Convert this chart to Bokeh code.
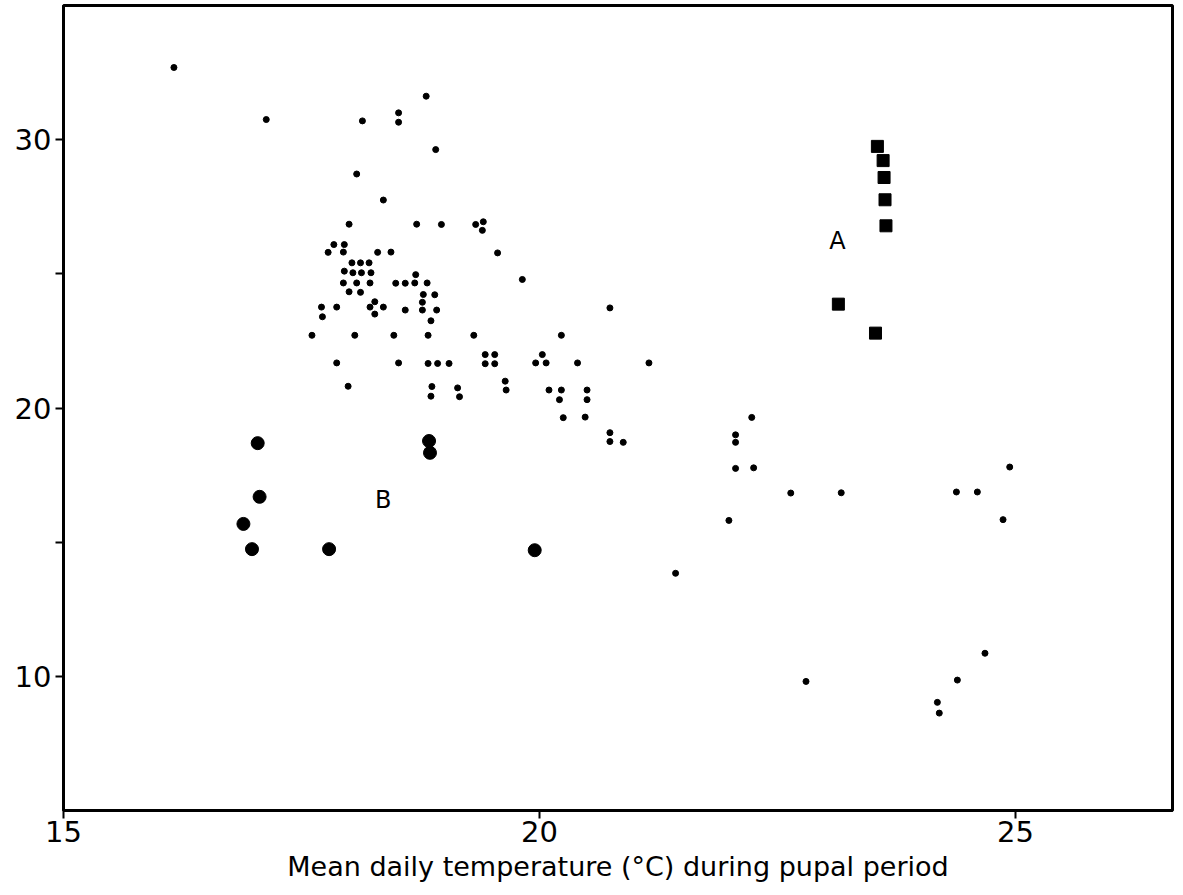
from bokeh.plotting import figure
from bokeh.models import Range1d, FixedTicker, ColumnDataSource
from bokeh.core.properties import value
from bokeh.embed import file_html
from bokeh.resources import INLINE

# Mean daily temperature during the pupal period (x) against the response (y)
dot_x = [16.16, 17.13, 18.14, 18.52, 18.52, 18.81, 18.91, 18.08, 18.36, 18.00,
         18.71, 18.97, 19.33, 19.41, 19.40, 17.84, 17.95, 17.78, 17.94, 18.30,
         18.44, 19.56, 19.82, 18.03, 18.12, 18.21, 17.95, 18.04, 18.13, 18.23,
         17.94, 18.08, 18.22, 18.49, 18.59, 18.69, 18.82, 18.70, 18.00, 18.12,
         18.78, 18.90, 18.77, 18.27, 17.71, 17.87, 18.22, 18.36, 18.59, 18.77,
         18.92, 17.72, 18.27, 18.86, 17.61, 18.06, 18.47, 18.83, 19.31, 20.74,
         20.23, 17.87, 18.52, 18.83, 18.93, 19.05, 19.43, 19.53, 19.43, 19.53,
         20.03, 19.96, 20.07, 20.40, 21.15, 17.99, 18.87, 18.86, 19.14, 19.16,
         19.64, 19.65, 20.10, 20.23, 20.21, 20.50, 20.50, 20.48, 20.25, 20.74,
         20.74, 20.88, 21.43, 22.23, 22.06, 22.06, 22.06, 22.25, 22.64, 23.17,
         21.99, 24.38, 24.60, 24.94, 24.87, 24.68, 24.39, 24.18, 24.20, 22.80]
dot_y = [32.69, 30.75, 30.70, 31.00, 30.65, 31.62, 29.63, 28.72, 27.75, 26.85,
         26.85, 26.84, 26.84, 26.94, 26.62, 26.09, 26.09, 25.80, 25.81, 25.80,
         25.81, 25.78, 24.79, 25.41, 25.41, 25.41, 25.10, 25.04, 25.04, 25.04,
         24.66, 24.66, 24.66, 24.65, 24.65, 24.66, 24.66, 24.97, 24.33, 24.31,
         24.23, 24.22, 23.94, 23.96, 23.76, 23.76, 23.76, 23.76, 23.65, 23.65,
         23.65, 23.40, 23.50, 23.25, 22.71, 22.71, 22.71, 22.71, 22.71, 23.73,
         22.71, 21.68, 21.68, 21.66, 21.66, 21.66, 21.99, 21.99, 21.65, 21.65,
         21.99, 21.68, 21.68, 21.68, 21.68, 20.81, 20.80, 20.44, 20.75, 20.42,
         21.00, 20.67, 20.67, 20.67, 20.31, 20.67, 20.31, 19.66, 19.64, 19.08,
         18.75, 18.72, 13.84, 19.65, 19.00, 18.72, 17.75, 17.77, 16.83, 16.84,
         15.81, 16.87, 16.87, 17.80, 15.84, 10.86, 9.86, 9.03, 8.63, 9.81]

# Group A (squares)
a_x = [23.55, 23.61, 23.62, 23.63, 23.64, 23.14, 23.53]
a_y = [29.75, 29.22, 28.59, 27.76, 26.79, 23.87, 22.79]

# Group B (large circles)
b_x = [17.04, 17.06, 16.89, 16.98, 17.79, 18.84, 18.85, 19.95]
b_y = [18.69, 16.69, 15.68, 14.74, 14.74, 18.77, 18.33, 14.70]

# Group labels
label_text = ["A", "B"]
label_x = [23.13, 18.36]
label_y = [26.23, 16.59]

x_ticks = [15, 20, 25]
y_ticks = [10, 15, 20, 25, 30]
y_tick_labels = {10: "10", 15: "", 20: "20", 25: "", 30: "30"}

FONT = "DejaVu Sans"

p = figure(width=1183, height=895, output_backend="svg", toolbar_location=None,
           x_range=Range1d(15, 26.65), y_range=Range1d(5, 35),
           min_border_left=63, min_border_right=11, min_border_top=5,
           min_border_bottom=85)

p.background_fill_color = "white"
p.border_fill_color = "white"
p.outline_line_color = "black"
p.outline_line_width = 3
p.xgrid.visible = False
p.ygrid.visible = False

p.xaxis.ticker = FixedTicker(ticks=x_ticks)
p.yaxis.ticker = FixedTicker(ticks=y_ticks)
p.yaxis.major_label_overrides = y_tick_labels
for ax in (p.xaxis, p.yaxis):
    ax.axis_line_color = "black"
    ax.axis_line_width = 3
    ax.major_tick_line_color = "black"
    ax.major_tick_line_width = 2
    ax.major_tick_in = 0
    ax.minor_tick_line_color = None
    ax.major_label_text_font = FONT
    ax.major_label_text_font_size = "29px"
    ax.major_label_text_color = "black"
p.xaxis.major_tick_out = 8
p.yaxis.major_tick_out = 8
p.xaxis.major_label_standoff = 2
p.yaxis.major_label_standoff = 4

p.xaxis.axis_label = "Mean daily temperature (°C) during pupal period"
p.xaxis.axis_label_text_font = FONT
p.xaxis.axis_label_text_font_size = "27px"
p.xaxis.axis_label_text_font_style = "normal"
p.xaxis.axis_label_text_color = "black"
p.xaxis.axis_label_standoff = 6

p.scatter(dot_x, dot_y, marker="circle", size=6, color="black")
p.scatter(b_x, b_y, marker="circle", size=13, color="black")
p.scatter(a_x, a_y, marker="square", size=12, color="black")

src = ColumnDataSource(dict(x=label_x, y=label_y, t=label_text))
p.text("x", "y", text="t", source=src, text_font=value(FONT),
       text_font_size="24px", text_align="center", text_baseline="middle",
       text_color="black")

with open("out.html", "w") as f:
    f.write(file_html(p, INLINE))
